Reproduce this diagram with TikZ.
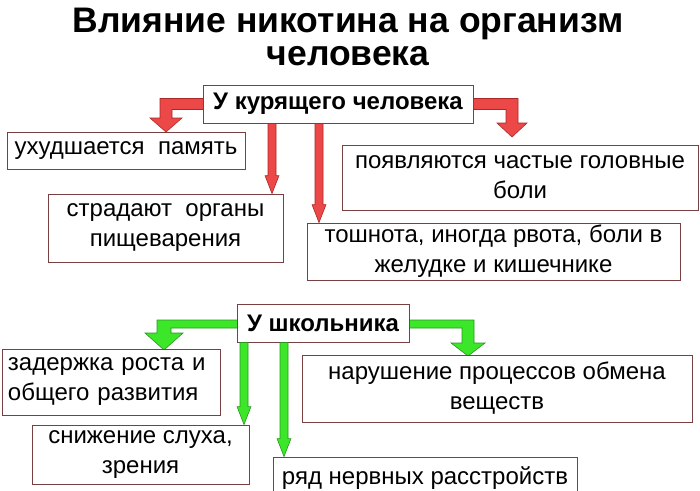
\documentclass[tikz,border=0pt]{standalone}
\usepackage{fontspec}
\setmainfont{Liberation Sans}
\usetikzlibrary{calc}
\definecolor{boxline}{RGB}{120,64,64}
\definecolor{redfill}{RGB}{236,72,72}
\definecolor{redline}{RGB}{170,40,40}
\definecolor{greenfill}{RGB}{60,230,40}
\definecolor{greenline}{RGB}{40,150,30}
\tikzset{
  infobox/.style={draw=boxline, line width=0.9pt, fill=white, inner sep=2pt, align=center,
    font=\fontsize{24}{30}\selectfont},
  headbox/.style={draw=boxline, line width=0.9pt, fill=white, inner sep=2pt, align=center,
    font=\fontsize{24}{26}\selectfont\bfseries},
  redarrow/.style={fill=redfill, draw=redline, line width=0.6pt},
  greenarrow/.style={fill=greenfill, draw=greenline, line width=0.6pt},
}
\newcommand\thinarr[3]{%
  \path[#1] let \p1=(#2), \p2=(#3) in
    (\x1-4pt,\y1) -- (\x1-4pt,\y2+18pt) -- (\x1-7pt,\y2+18pt) -- (\x1,\y2)
    -- (\x1+7pt,\y2+18pt) -- (\x1+4pt,\y2+18pt) -- (\x1+4pt,\y1) -- cycle;}
\begin{document}
\begin{tikzpicture}[x=1pt,y=-1pt]
\useasboundingbox (0,0) rectangle (700,490);
\clip (0,0) rectangle (700,490);
% title
\node[font=\fontsize{35.5}{33.5}\selectfont\bfseries, align=center] (title) at (348,37)
  {Влияние никотина на организм\\человека};
% fat bent arrows (drawn first)
\path[redarrow] (205,98.5) -- (160,98.5) -- (160,118) -- (150,118) -- (166,132) -- (182,118)
  -- (172,118) -- (172,109.5) -- (205,109.5) -- cycle;
\path[redarrow] (471,98.5) -- (518,98.5) -- (518,123) -- (527,123) -- (512,137) -- (497,123)
  -- (506,123) -- (506,109.5) -- (471,109.5) -- cycle;
\path[greenarrow] (239,320) -- (157,320) -- (157,333) -- (145,333) -- (164,350) -- (183,333)
  -- (171,333) -- (171,328) -- (239,328) -- cycle;
\path[greenarrow] (407,320) -- (474,320) -- (474,343) -- (485,343) -- (468,356) -- (451,343)
  -- (462,343) -- (462,328) -- (407,328) -- cycle;
% smoker group
\node[headbox, minimum width=270pt, minimum height=38pt] (A) at (338,104) {У курящего человека};
\node[infobox, minimum width=238pt, minimum height=37pt] (m1) at (126,150.5) {ухудшается\ \ память};
\node[infobox, minimum width=235pt, minimum height=68pt] (m2) at (165.5,228) {страдают\ \ органы\\пищеварения};
\node[infobox, minimum width=356pt, minimum height=65pt] (m3) at (520,177.5) {появляются частые головные\\боли};
\node[infobox, minimum width=373pt, minimum height=57pt] (m4) at (493.5,251.5) {тошнота, иногда рвота, боли в\\желудке и кишечнике};
% schoolchild group
\node[headbox, minimum width=172pt, minimum height=38pt] (B) at (323,323) {У школьника};
\node[infobox, minimum width=218pt, minimum height=66pt, text width=206pt, align=left] (s1) at (111,382) {задержка роста и\\общего развития};
\node[infobox, minimum width=217pt, minimum height=59pt] (s2) at (140.5,454.5) {снижение слуха,\\зрения};
\node[infobox, minimum width=390pt, minimum height=67pt] (s3) at (497,388.5) {нарушение процессов обмена\\веществ};
\node[infobox, minimum width=304pt, minimum height=42pt] (s4) at (425,478) {ряд нервных расстройств};
% thin arrows
\thinarr{redarrow}{272,0 |- A.south}{272,0 |- m2.north}
\thinarr{redarrow}{319,0 |- A.south}{319,0 |- m4.north}
\thinarr{greenarrow}{244,0 |- B.south}{244,0 |- s2.north}
\thinarr{greenarrow}{284,0 |- B.south}{284,0 |- s4.north}
\end{tikzpicture}
\end{document}
